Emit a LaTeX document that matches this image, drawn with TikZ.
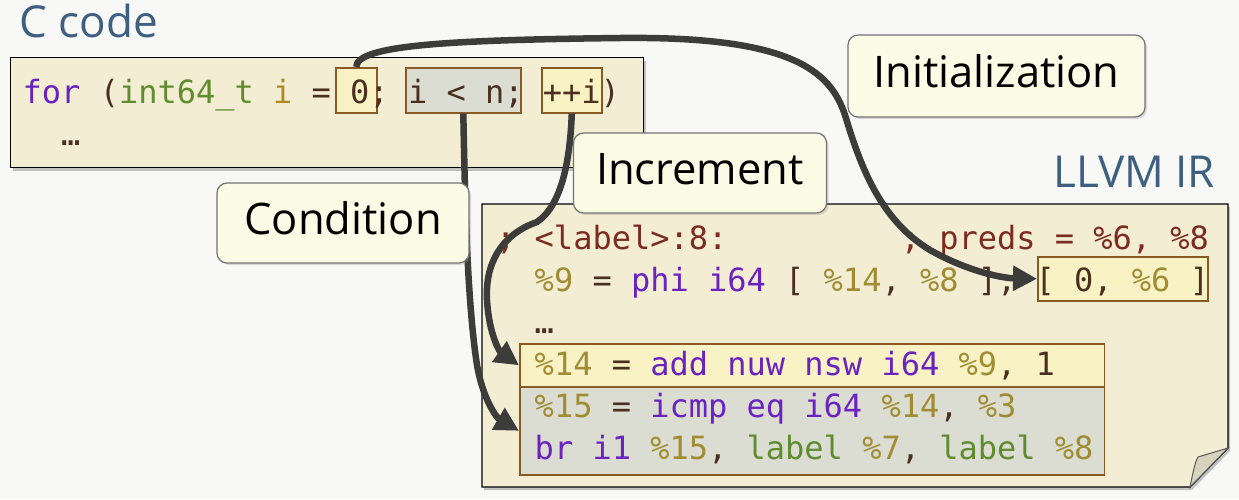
\documentclass[tikz,border=0pt]{standalone}
\usepackage{fontspec}
\setmainfont{Open Sans}
\newfontfamily\codefont{DejaVu Sans Mono}
\usetikzlibrary{shadows,arrows.meta}
\definecolor{bgc}{HTML}{F8F8F7}
\definecolor{paper}{HTML}{F3EDD3}
\definecolor{titleblue}{HTML}{3F5F80}
\definecolor{kwc}{HTML}{6A22C0}
\definecolor{tyc}{HTML}{5E8C2E}
\definecolor{valc}{HTML}{A08C32}
\definecolor{varc}{HTML}{B08A20}
\definecolor{dkc}{HTML}{4A2E1E}
\definecolor{cmc}{HTML}{7B2B22}
\definecolor{yfill}{HTML}{F8F2C4}
\definecolor{gfill}{HTML}{DCDDD2}
\definecolor{bbord}{HTML}{8A5A24}
\definecolor{callfill}{HTML}{FCFCE6}
\definecolor{arrc}{HTML}{3C3C3A}
\definecolor{flapc}{HTML}{D6D3BF}
\newcommand\cKw[1]{\textcolor{kwc}{#1}}
\newcommand\cTy[1]{\textcolor{tyc}{#1}}
\newcommand\cVal[1]{\textcolor{valc}{#1}}
\newcommand\cVar[1]{\textcolor{varc}{#1}}
\newcommand\cDk[1]{\textcolor{dkc}{#1}}
\newcommand\cCm[1]{\textcolor{cmc}{#1}}
\tikzset{
  panel/.style={draw=black, line width=1.4pt, fill=paper,
    drop shadow={shadow xshift=2pt, shadow yshift=-3pt, opacity=0.45}},
  ybox/.style={draw=bbord, fill=yfill, line width=1.6pt, inner sep=0pt, anchor=north west},
  gbox/.style={draw=bbord, fill=gfill, line width=1.6pt, inner sep=0pt, anchor=north west},
  codeline/.style={anchor=base west, inner sep=0pt,
    font=\codefont\fontsize{32}{38}\selectfont\frenchspacing},
  titletext/.style={anchor=base west, inner sep=0pt, text=titleblue,
    font=\fontsize{44}{52}\selectfont},
  callout/.style={draw=black!55, fill=callfill, rounded corners=10pt, line width=1.2pt,
    font=\fontsize{43.5}{52}\selectfont, text height=33pt, text depth=10pt,
    drop shadow={opacity=0.25, shadow xshift=2pt, shadow yshift=-2pt}},
  arr/.style={draw=arrc, line width=6.5pt, -{Triangle[length=24pt,width=24pt]}}
}
\begin{document}
\begin{tikzpicture}[x=1pt,y=-1pt]
\useasboundingbox (0,0) rectangle (1239,499);
\fill[bgc] (0,0) rectangle (1239,499);

% titles
\node[titletext] (ctitle) at (19.5,37) {C code};
\node[titletext] (irtitle) at (1053,187) {LLVM IR};

% C code panel
\node[panel, anchor=north west, minimum width=633pt, minimum height=110pt, inner sep=0pt] (cbox) at (10,57) {};
\node[ybox, minimum width=41pt, minimum height=45pt] (zero) at (335,67) {};
\node[gbox, minimum width=115pt, minimum height=45pt] (cond) at (405,67) {};
\node[ybox, minimum width=60pt, minimum height=45pt] (incr) at (541,67) {};
\node[codeline] (cl1) at (22.5,103) {\cKw{for} \cDk{(}\cTy{int64\_t} \cVar{i} \cDk{=} \cDk{0;} \cDk{i < n;} \cDk{++i)}};
\node[codeline] (cl2) at (22.5,145) {\ \ \cDk{…}};

% LLVM IR panel
\path[panel] (482,204) -- (1228,204) -- (1228,448) -- (1190,487) -- (482,487) -- cycle;
\filldraw[fill=flapc, draw=black!65, line width=1pt] (1190,487) .. controls (1193,472) and (1195,462) .. (1198,457) -- (1228,448) -- cycle;
\node[ybox, minimum width=170pt, minimum height=44pt] (phibox) at (1037,256) {};
\node[ybox, minimum width=584.5pt, minimum height=43pt] (addbox) at (519,343) {};
\node[gbox, minimum width=584.5pt, minimum height=88pt] (cmpbox) at (519,386) {};
\node[codeline] (ir1) at (496,249) {\cCm{;\ <label>:8:\ \ \ \ \ \ \ \ \ ;\ preds\ =\ \%6,\ \%8}};
\node[codeline] (ir2) at (496,291) {\ \ \cVal{\%9} \cDk{=} \cKw{phi i64} \cDk{[} \cVal{\%14}\cDk{,} \cVal{\%8} \cDk{],} \cDk{[} \cDk{0,} \cVal{\%6} \cDk{]}};
\node[codeline] (ir3) at (496,333) {\ \ \cDk{…}};
\node[codeline] (ir4) at (496,375) {\ \ \cVal{\%14} \cDk{=} \cKw{add nuw nsw i64} \cVal{\%9}\cDk{,} \cDk{1}};
\node[codeline] (ir5) at (496,417) {\ \ \cVal{\%15} \cDk{=} \cKw{icmp eq i64} \cVal{\%14}\cDk{,} \cVal{\%3}};
\node[codeline] (ir6) at (496,459) {\ \ \cKw{br i1} \cVal{\%15}\cDk{,} \cTy{label} \cVal{\%7}\cDk{,} \cTy{label} \cVal{\%8}};

% arrows
\draw[arr] (zero.north) .. controls (356,45) and (450,40) .. (620,38)
  .. controls (790,36) and (830,70) .. (845,115)
  .. controls (860,165) and (880,220) .. (930,250)
  .. controls (965,270) and (1000,278) .. (phibox.west);
\draw[arr] (cond.south) .. controls (465,200) and (467,300) .. (477,365)
  .. controls (483,400) and (497,418) .. (cmpbox.west);
\draw[arr] (incr.south) .. controls (570,160) and (562,205) .. (537,222)
  .. controls (500,235) and (485,265) .. (487,300)
  .. controls (489,335) and (500,352) .. (addbox.west);

% callouts
\node[callout, minimum width=297pt, minimum height=82pt] (initc) at (996.5,76) {Initialization};
\node[callout, minimum width=253pt, minimum height=80pt] (incc) at (700,173) {Increment};
\node[callout, minimum width=252pt, minimum height=80pt] (condc) at (343,223) {Condition};
\end{tikzpicture}
\end{document}
